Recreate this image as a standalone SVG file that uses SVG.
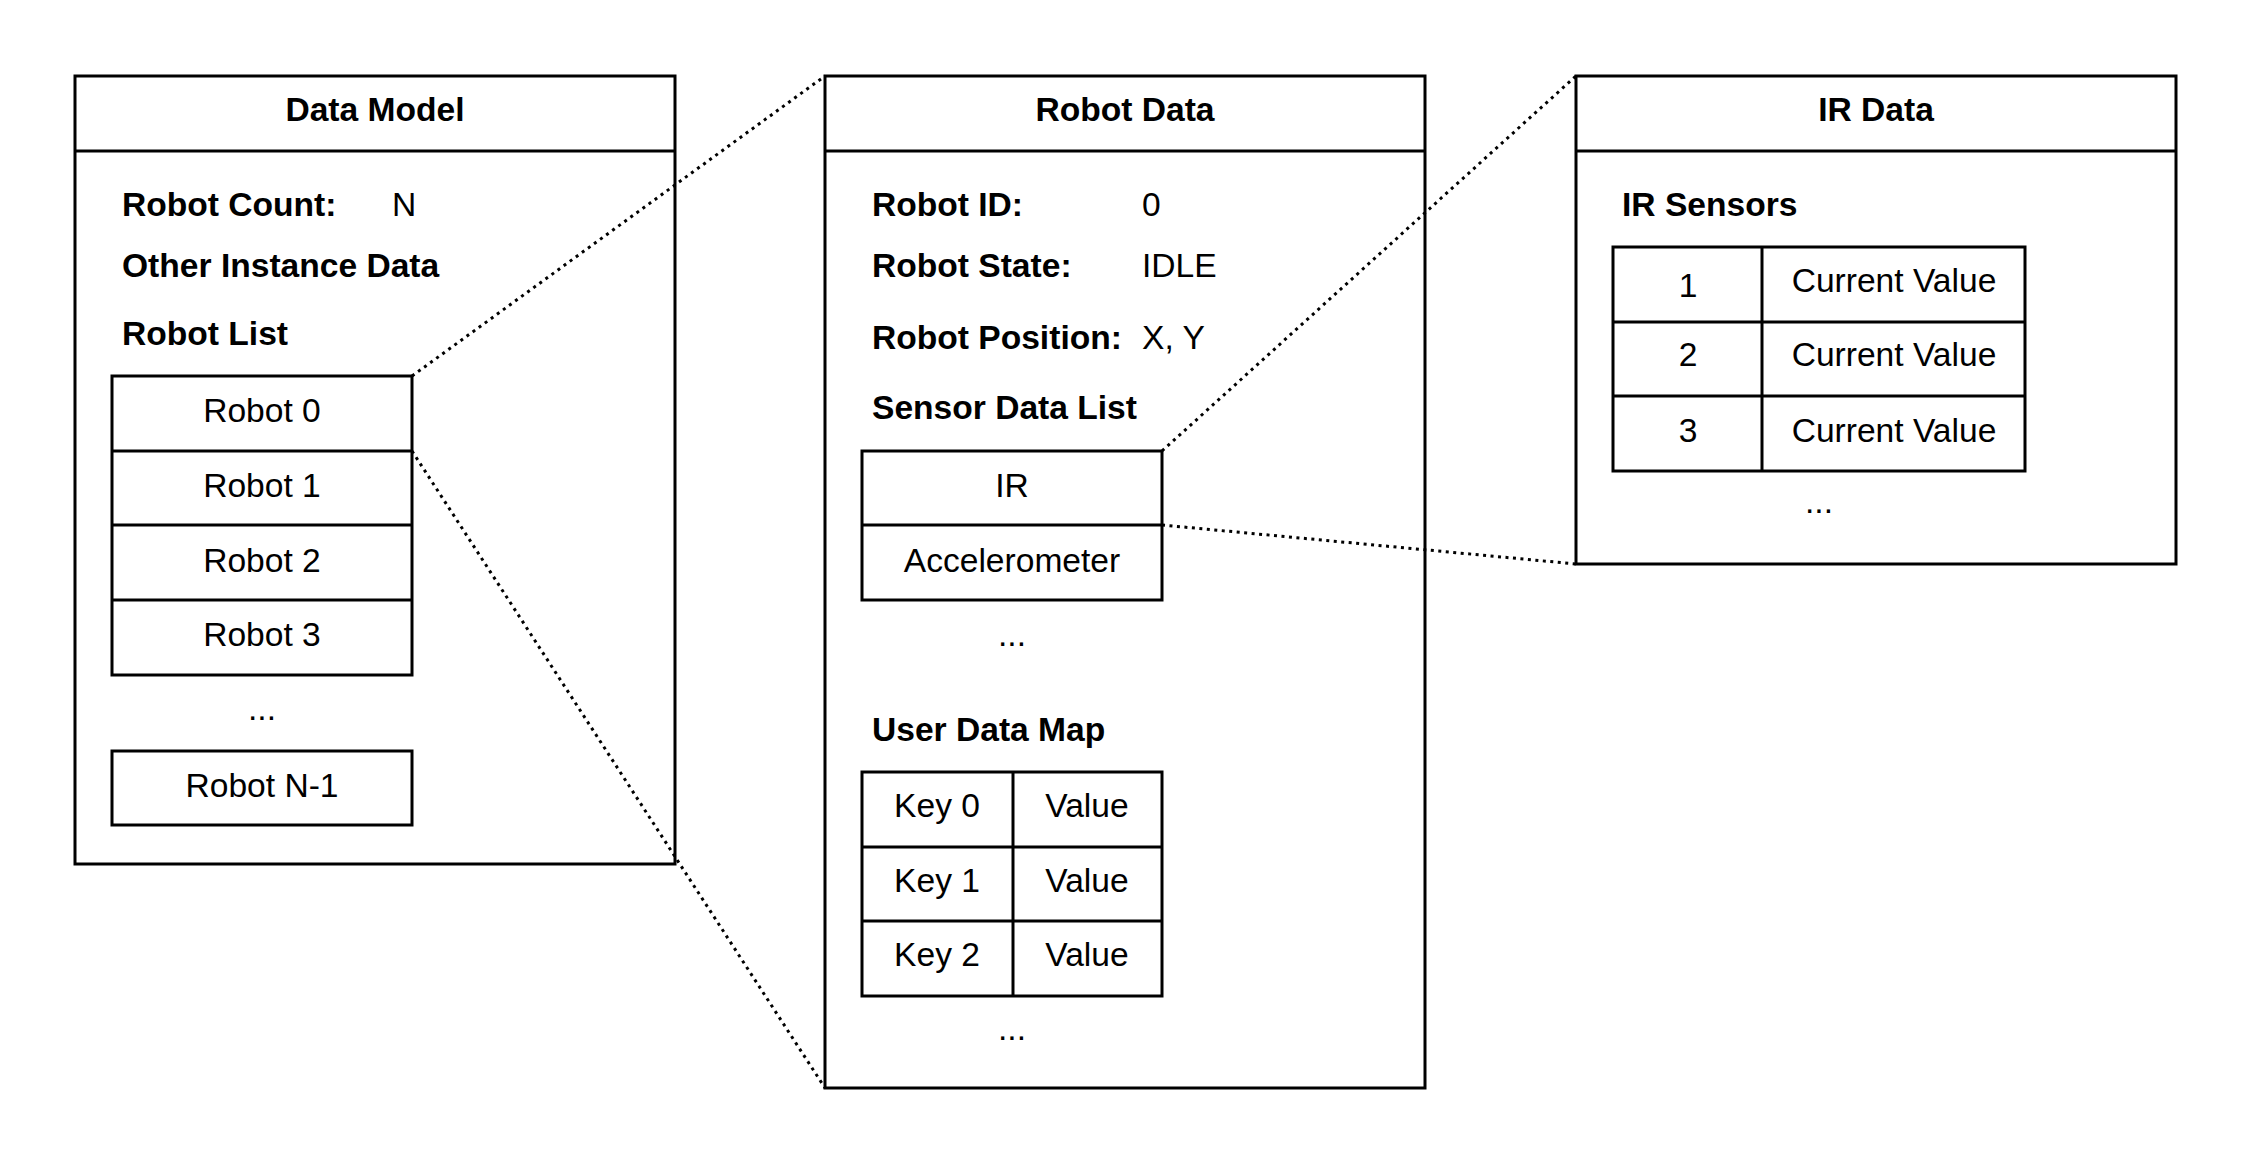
<svg xmlns="http://www.w3.org/2000/svg" width="2250" height="1164" viewBox="0 0 2250 1164">
<style>
.box{fill:#fff;stroke:#000;stroke-width:3}
.ln{stroke:#000;stroke-width:3}
.t{font-family:"Liberation Sans",Arial,sans-serif;font-size:33.6px;fill:#000}
.b{font-weight:bold}
.c{text-anchor:middle}
.conn{stroke:#000;stroke-width:3;stroke-dasharray:3 4.5;fill:none}
</style>
<rect width="2250" height="1164" fill="#fff"/>
<g id="data-model">
<rect class="box" x="75" y="76" width="600" height="788"/>
<line class="ln" x1="75" y1="151" x2="675" y2="151"/>
<text class="t b c" x="375" y="121">Data Model</text>
<text class="t b" x="122" y="216">Robot Count:</text>
<text class="t" x="392" y="216">N</text>
<text class="t b" x="122" y="277">Other Instance Data</text>
<text class="t b" x="122" y="345">Robot List</text>
<rect class="box" x="112" y="376" width="300" height="299"/>
<line class="ln" x1="112" y1="451" x2="412" y2="451"/>
<line class="ln" x1="112" y1="525" x2="412" y2="525"/>
<line class="ln" x1="112" y1="600" x2="412" y2="600"/>
<text class="t c" x="262" y="422">Robot 0</text>
<text class="t c" x="262" y="497">Robot 1</text>
<text class="t c" x="262" y="572">Robot 2</text>
<text class="t c" x="262" y="646">Robot 3</text>
<text class="t c" x="262" y="720">...</text>
<rect class="box" x="112" y="751" width="300" height="74"/>
<text class="t c" x="262" y="797">Robot N-1</text>
</g>
<g id="robot-data">
<rect class="box" x="825" y="76" width="600" height="1012"/>
<line class="ln" x1="825" y1="151" x2="1425" y2="151"/>
<text class="t b c" x="1125" y="121">Robot Data</text>
<text class="t b" x="872" y="216">Robot ID:</text>
<text class="t" x="1142" y="216">0</text>
<text class="t b" x="872" y="277">Robot State:</text>
<text class="t" x="1142" y="277">IDLE</text>
<text class="t b" x="872" y="349">Robot Position:</text>
<text class="t" x="1142" y="349">X, Y</text>
<text class="t b" x="872" y="419">Sensor Data List</text>
<rect class="box" x="862" y="451" width="300" height="149"/>
<line class="ln" x1="862" y1="525" x2="1162" y2="525"/>
<text class="t c" x="1012" y="497">IR</text>
<text class="t c" x="1012" y="572">Accelerometer</text>
<text class="t c" x="1012" y="646">...</text>
<text class="t b" x="872" y="741">User Data Map</text>
<rect class="box" x="862" y="772" width="300" height="224"/>
<line class="ln" x1="862" y1="847" x2="1162" y2="847"/>
<line class="ln" x1="862" y1="921" x2="1162" y2="921"/>
<line class="ln" x1="1013" y1="772" x2="1013" y2="996"/>
<text class="t c" x="937" y="817">Key 0</text>
<text class="t c" x="1087" y="817">Value</text>
<text class="t c" x="937" y="892">Key 1</text>
<text class="t c" x="1087" y="892">Value</text>
<text class="t c" x="937" y="966">Key 2</text>
<text class="t c" x="1087" y="966">Value</text>
<text class="t c" x="1012" y="1040">...</text>
</g>
<g id="ir-data">
<rect class="box" x="1576" y="76" width="600" height="488"/>
<line class="ln" x1="1576" y1="151" x2="2176" y2="151"/>
<text class="t b c" x="1876" y="121">IR Data</text>
<text class="t b" x="1622" y="216">IR Sensors</text>
<rect class="box" x="1613" y="247" width="412" height="224"/>
<line class="ln" x1="1613" y1="322" x2="2025" y2="322"/>
<line class="ln" x1="1613" y1="396" x2="2025" y2="396"/>
<line class="ln" x1="1762" y1="247" x2="1762" y2="471"/>
<text class="t c" x="1688" y="297">1</text>
<text class="t c" x="1894" y="292">Current Value</text>
<text class="t c" x="1688" y="366">2</text>
<text class="t c" x="1894" y="366">Current Value</text>
<text class="t c" x="1688" y="442">3</text>
<text class="t c" x="1894" y="442">Current Value</text>
<text class="t c" x="1819" y="513">...</text>
</g>
<g id="connectors">
<line class="conn" x1="412" y1="376" x2="825" y2="76"/>
<line class="conn" x1="412" y1="451" x2="825" y2="1088"/>
<line class="conn" x1="1162" y1="451" x2="1576" y2="76"/>
<line class="conn" x1="1162" y1="525" x2="1576" y2="564"/>
</g>
</svg>
